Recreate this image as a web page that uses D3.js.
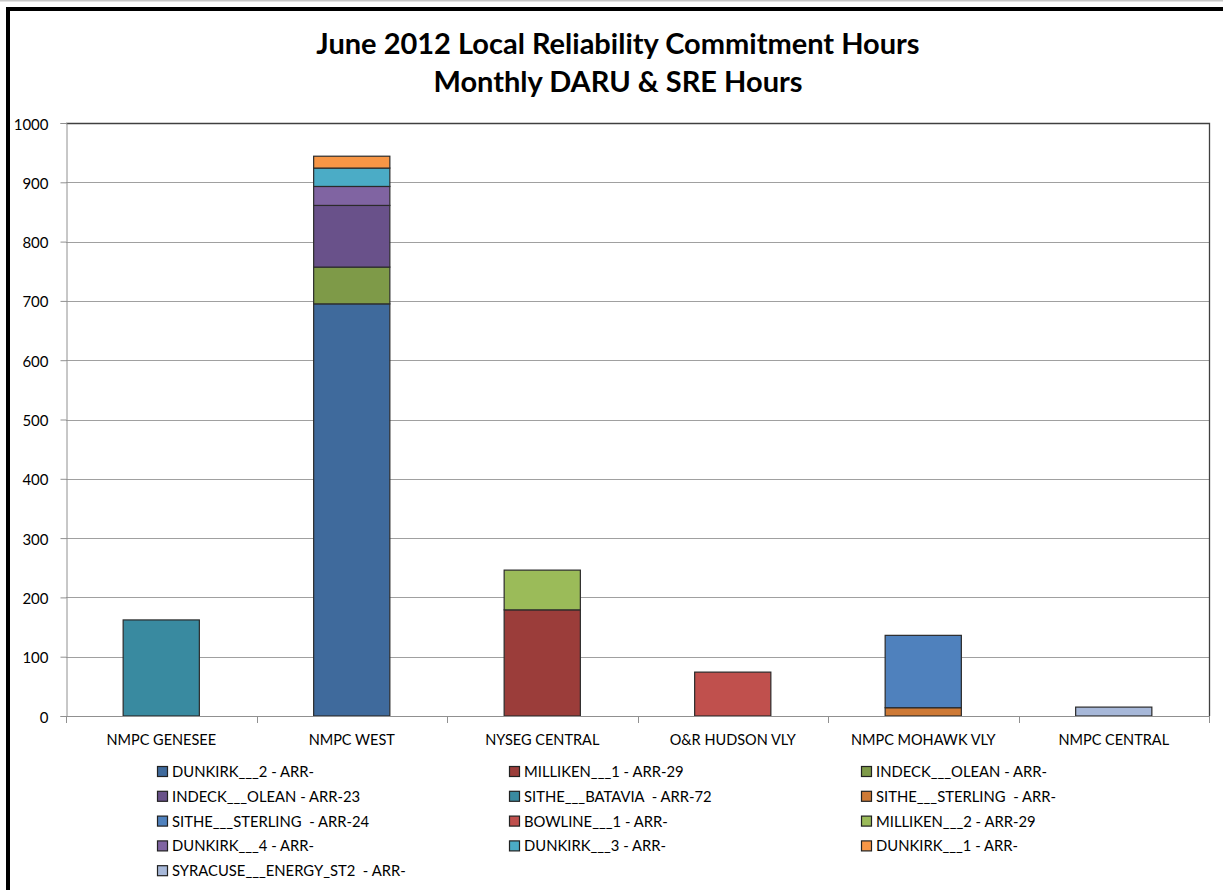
<!DOCTYPE html>
<html>
<head>
<meta charset="utf-8">
<script src="https://cdn.jsdelivr.net/npm/d3@7"></script>
<style>
  body { margin: 0; background: #fff; }
  svg { display: block; }
  text { font-family: Lato, "Open Sans", sans-serif; }
</style>
</head>
<body>
<svg id="chart" width="1223" height="890"></svg>
<script>
// ---- data ----
const categories = ["NMPC GENESEE", "NMPC WEST", "NYSEG CENTRAL", "O&R HUDSON  VLY", "NMPC MOHAWK VLY", "NMPC CENTRAL"];
const seriesNames = [
  "DUNKIRK___2 - ARR-",
  "MILLIKEN___1 - ARR-29",
  "INDECK___OLEAN - ARR-",
  "INDECK___OLEAN - ARR-23",
  "SITHE___BATAVIA  - ARR-72",
  "SITHE___STERLING  - ARR-",
  "SITHE___STERLING  - ARR-24",
  "BOWLINE___1 - ARR-",
  "MILLIKEN___2 - ARR-29",
  "DUNKIRK___4 - ARR-",
  "DUNKIRK___3 - ARR-",
  "DUNKIRK___1 - ARR-",
  "SYRACUSE___ENERGY_ST2  - ARR-"
];
const seriesColors = ["#3F6A9C", "#9B3D3A", "#7E9A48", "#69518A", "#398AA0", "#CE7A36", "#4F81BD", "#C0504D", "#9BBB59", "#8064A2", "#4BACC6", "#F79646", "#A7B8D9"];
// values per series, one per category (order as categories)
const dunkirk2      = [0, 695, 0, 0, 0, 0];
const milliken1     = [0, 0, 179, 0, 0, 0];
const indeckOlean   = [0, 62, 0, 0, 0, 0];
const indeckOlean23 = [0, 104, 0, 0, 0, 0];
const sitheBatavia  = [162, 0, 0, 0, 0, 0];
const sitheSterling = [0, 0, 0, 0, 14, 0];
const sitheSterling24 = [0, 0, 0, 0, 122, 0];
const bowline1      = [0, 0, 0, 74, 0, 0];
const milliken2     = [0, 0, 67, 0, 0, 0];
const dunkirk4      = [0, 32, 0, 0, 0, 0];
const dunkirk3      = [0, 31, 0, 0, 0, 0];
const dunkirk1      = [0, 20, 0, 0, 0, 0];
const syracuse      = [0, 0, 0, 0, 0, 15];
const seriesValues = [dunkirk2, milliken1, indeckOlean, indeckOlean23, sitheBatavia, sitheSterling,
  sitheSterling24, bowline1, milliken2, dunkirk4, dunkirk3, dunkirk1, syracuse];
const yTicks = [0, 100, 200, 300, 400, 500, 600, 700, 800, 900, 1000];
const titleLines = ["June 2012 Local Reliability Commitment Hours", "Monthly DARU & SRE Hours"];

// ---- build table ----
const rows = categories.map((c, i) => {
  const r = { category: c };
  seriesNames.forEach((s, j) => r[s] = seriesValues[j][i]);
  return r;
});
const stacked = d3.stack().keys(seriesNames)(rows);

const svg = d3.select("#chart");
const plot = { left: 66, top: 123, right: 1209, bottom: 716 };

// outer frame
svg.append("line").attr("x1", 0).attr("x2", 1223).attr("y1", 0.5).attr("y2", 0.5)
  .attr("stroke", "#c8c8c8").attr("stroke-width", 2);
svg.append("path").attr("d", "M8,890 V9 H1223").attr("fill", "none")
  .attr("stroke", "#000").attr("stroke-width", 4);

const x = d3.scaleBand().domain(categories).range([plot.left, plot.right])
  .paddingInner(0.6).paddingOuter(0.3);
const xOuter = d3.scaleBand().domain(categories).range([plot.left, plot.right]).padding(0);
const y = d3.scaleLinear().domain([0, 1000]).range([plot.bottom, plot.top]);

// gridlines
svg.append("g").selectAll("line").data(yTicks.filter(t => t > 0 && t < 1000)).join("line")
  .attr("x1", plot.left).attr("x2", plot.right)
  .attr("y1", d => Math.round(y(d)) + 0.5).attr("y2", d => Math.round(y(d)) + 0.5)
  .attr("stroke", "#a0a0a0").attr("stroke-width", 1);

// plot border top/right
svg.append("path")
  .attr("d", `M${plot.left},${plot.top + 0.5} H${plot.right + 0.5} V${plot.bottom}`)
  .attr("fill", "none").attr("stroke", "#404040").attr("stroke-width", 1.3);

// bars
svg.append("g").selectAll("g").data(stacked).join("g")
  .attr("fill", (d, i) => seriesColors[i])
  .selectAll("rect").data(d => d.filter(p => p[1] - p[0] > 0)).join("rect")
  .attr("x", d => x(d.data.category))
  .attr("width", x.bandwidth())
  .attr("y", d => y(d[1]))
  .attr("height", d => y(d[0]) - y(d[1]))
  .attr("stroke", "#2b2b2b").attr("stroke-width", 1.2);

// y axis
const yAxis = svg.append("g").attr("transform", `translate(${plot.left + 0.5},0)`)
  .call(d3.axisLeft(y).tickValues(yTicks).tickSize(6).tickPadding(12).tickFormat(d3.format("d")));
yAxis.select(".domain").attr("stroke", "#909090");
yAxis.selectAll(".tick line").attr("stroke", "#909090");
yAxis.selectAll("text").attr("font-size", 15).attr("fill", "#000").attr("dy", "0.4em")
  .style("font-family", "Lato, sans-serif");

// x axis
const xAxis = svg.append("g").attr("transform", `translate(0,${plot.bottom + 0.5})`)
  .call(d3.axisBottom(xOuter).tickSize(0).tickPadding(18));
xAxis.select(".domain").attr("stroke", "#909090").attr("d", `M${plot.left},0H${plot.right + 0.5}`);
xAxis.selectAll("text").attr("font-size", 14.5).attr("fill", "#000")
  .style("font-family", "Lato, sans-serif");
// boundary ticks
const bounds = categories.map(c => xOuter(c)).concat([plot.right]);
svg.append("g").selectAll("line").data(bounds).join("line")
  .attr("x1", d => Math.round(d) + 0.5).attr("x2", d => Math.round(d) + 0.5)
  .attr("y1", plot.bottom).attr("y2", plot.bottom + 7)
  .attr("stroke", "#909090");

// title
svg.append("g").selectAll("text").data(titleLines).join("text")
  .attr("x", 618).attr("y", (d, i) => 54 + i * 38)
  .attr("text-anchor", "middle").attr("font-size", 29).attr("font-weight", "bold")
  .attr("fill", "#000").text(d => d);

// legend
const colX = [157, 509, 861];
const legend = svg.append("g").selectAll("g").data(seriesNames).join("g")
  .attr("transform", (d, i) => `translate(${colX[i % 3]},${772 + Math.floor(i / 3) * 24.8})`);
legend.append("rect").attr("x", 0.5).attr("y", -5.5).attr("width", 10).attr("height", 10)
  .attr("fill", (d, i) => seriesColors[i]).attr("stroke", "#222").attr("stroke-width", 1.2);
legend.append("text").attr("x", 15).attr("y", 5).attr("font-size", 14.8).attr("fill", "#000")
  .style("white-space", "pre").attr("xml:space", "preserve").text(d => d);
</script>
</body>
</html>
